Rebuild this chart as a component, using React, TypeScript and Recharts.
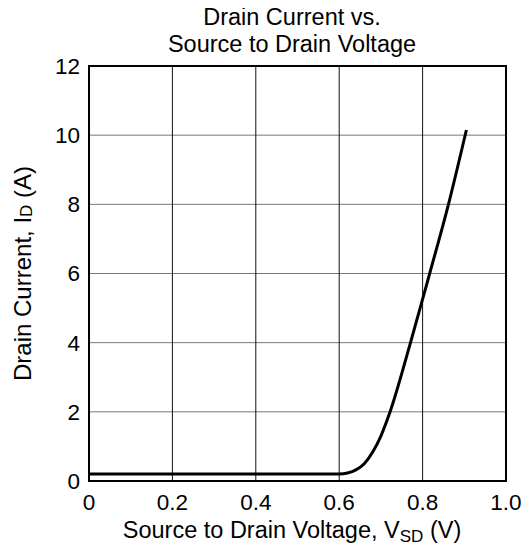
import { CartesianGrid, Label, Line, LineChart, ReferenceArea, XAxis, YAxis } from "recharts";

// source-to-drain voltage (V) vs drain current (A)
const vsd = [0, 0.3, 0.6, 0.62, 0.64, 0.66, 0.68, 0.7, 0.722, 0.771, 0.817, 0.862, 0.905];
const idrain = [0.2, 0.2, 0.2, 0.23, 0.32, 0.5, 0.83, 1.3, 2, 4, 6, 8, 10.15];

const xTicks = [0, 0.2, 0.4, 0.6, 0.8, 1.0];
const yTicks = [0, 2, 4, 6, 8, 10, 12];
const titleLines = ["Drain Current vs.", "Source to Drain Voltage"];

const data = vsd.map((v, i) => ({ v, id: idrain[i] }));

const FONT = "'Liberation Sans', Arial, sans-serif";

export default function App() {
  return (
    <div style={{ position: "relative", width: 530, height: 551, margin: "-8px 0 0 -8px", fontFamily: FONT, background: "#fff" }}>
      {titleLines.map((t, i) => (
        <div
          key={t}
          style={{ position: "absolute", left: 0, width: 584, top: 4 + i * 27, textAlign: "center", fontSize: 23.5, lineHeight: "27px", color: "#000" }}
        >
          {t}
        </div>
      ))}
      <LineChart width={530} height={551} data={data} margin={{ top: 66, right: 24, left: 29, bottom: 40 }} style={{ overflow: "visible" }}>
        <CartesianGrid horizontal vertical={false} stroke="#777" strokeWidth={1} />
        <CartesianGrid horizontal={false} vertical stroke="#111" strokeWidth={1} />
        <XAxis
          type="number"
          dataKey="v"
          domain={[0, 1]}
          ticks={xTicks}
          tickFormatter={(t: number) => (t === 0 ? "0" : t.toFixed(1))}
          tickLine={false}
          axisLine={false}
          height={30}
          tick={{ fill: "#000", fontSize: 22.5, fontFamily: FONT, dy: 5 }}
          interval={0}
        >
          <Label
            position="insideBottom"
            content={() => (
              <text x={292} y={538} textAnchor="middle" fontSize={23.5} fontFamily={FONT} fill="#000">
                Source to Drain Voltage, V<tspan fontSize={17} dy={4}>SD</tspan>
                <tspan dy={-4}> (V)</tspan>
              </text>
            )}
          />
        </XAxis>
        <YAxis
          type="number"
          domain={[0, 12]}
          ticks={yTicks}
          tickLine={false}
          axisLine={false}
          width={60}
          tick={{ fill: "#000", fontSize: 22.5, fontFamily: FONT, dx: -1 }}
          interval={0}
        >
          <Label
            content={(p: any) => {
              const vb = p.viewBox;
              const cx = 22;
              const cy = vb.y + vb.height / 2;
              return (
                <text x={cx} y={cy} transform={`rotate(-90 ${cx} ${cy})`} textAnchor="middle" dominantBaseline="central" fontSize={24} fontFamily={FONT} fill="#000">
                  Drain Current, I<tspan fontSize={17} dy={4}>D</tspan>
                  <tspan dy={-4}> (A)</tspan>
                </text>
              );
            }}
          />
        </YAxis>
        <Line
          type="monotone"
          dataKey="id"
          stroke="#000"
          strokeWidth={3}
          dot={false}
          isAnimationActive={false}
        />
        <ReferenceArea x1={0} x2={1} y1={0} y2={12} fill="none" stroke="#000" strokeWidth={2} fillOpacity={0} />
      </LineChart>
    </div>
  );
}
